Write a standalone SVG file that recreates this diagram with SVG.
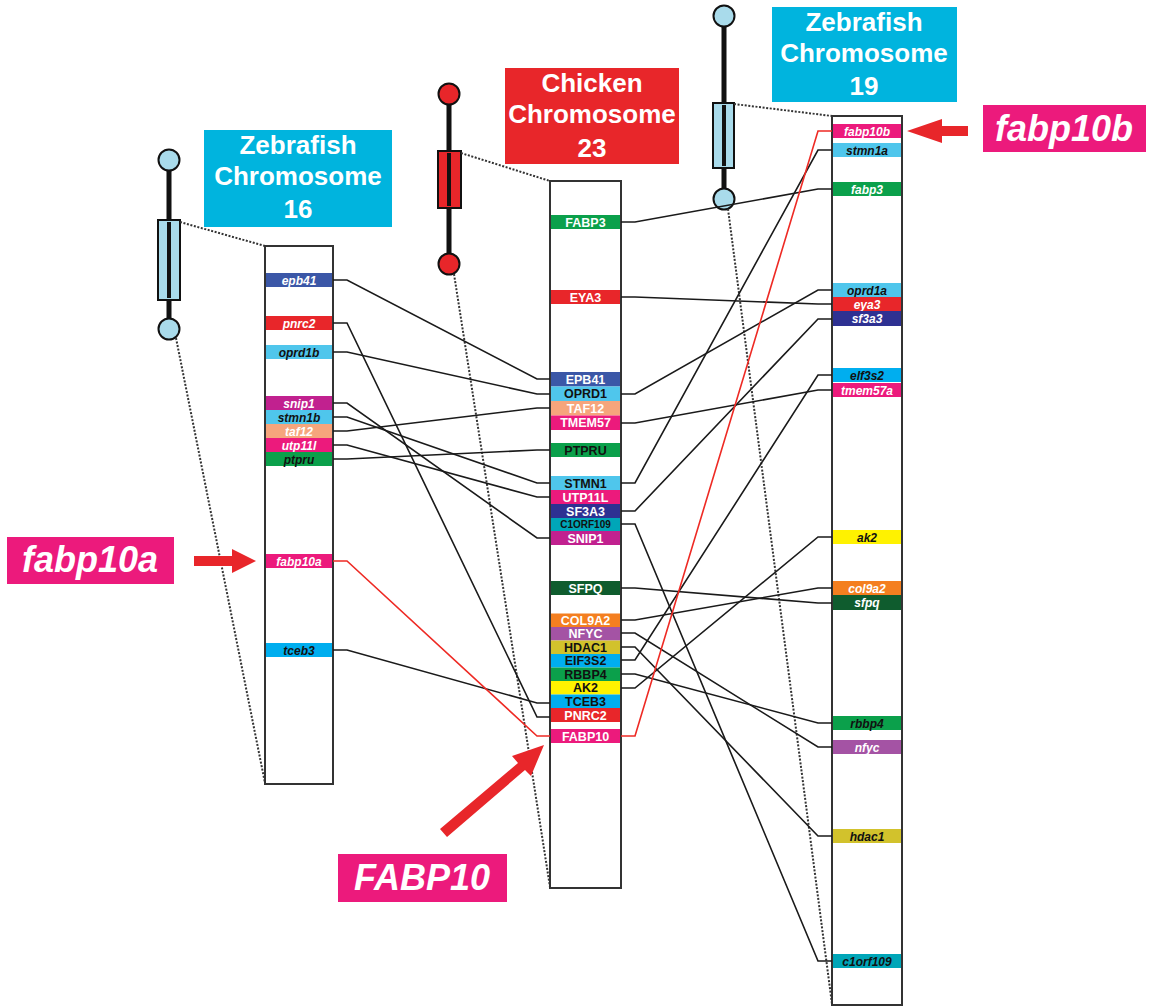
<svg xmlns="http://www.w3.org/2000/svg" width="1153" height="1006" viewBox="0 0 1153 1006">
<style>
text{font-family:"Liberation Sans",Arial,sans-serif;font-weight:bold;text-anchor:middle}
.hdr{font-size:26px;fill:#fff}
.big{font-size:36px;fill:#fff;font-style:italic}
.zg{font-size:12px;font-style:italic}
.cg{font-size:12.5px}
.w{fill:#fff}.k{fill:#111}
.box{fill:#fff;stroke:#333;stroke-width:2}
.dot{fill:none;stroke:#333;stroke-width:2;stroke-dasharray:2,1.6}
.con{fill:none;stroke:#1a1a1a;stroke-width:1.6}
.red{fill:none;stroke:#ee2a24;stroke-width:1.6}
.stalk{stroke:#111;stroke-width:5}
.ib{fill:#a9dbeb;stroke:#111;stroke-width:2}
.ir{fill:#e8262a;stroke:#111;stroke-width:2}
</style>

<!-- Ideograms -->
<g id="ideo16">
<line class="stalk" x1="169" y1="160" x2="169" y2="329"/>
<circle class="ib" cx="169" cy="160" r="10.5"/>
<rect class="ib" x="158" y="220" width="22" height="80"/>
<line x1="169" y1="222" x2="169" y2="298" stroke="#111" stroke-width="4"/>
<circle class="ib" cx="169" cy="329" r="10.5"/>
</g>
<g id="ideo23">
<line class="stalk" x1="449" y1="94" x2="449" y2="264"/>
<circle class="ir" cx="449" cy="94" r="10.5"/>
<rect class="ir" x="438" y="151" width="23" height="57"/>
<line x1="449" y1="153" x2="449" y2="206" stroke="#111" stroke-width="4"/>
<circle class="ir" cx="449" cy="264" r="10.5"/>
</g>
<g id="ideo19">
<line class="stalk" x1="724" y1="16" x2="724" y2="199"/>
<circle class="ib" cx="724" cy="16" r="10.5"/>
<rect class="ib" x="713" y="103" width="21" height="65"/>
<line x1="724" y1="105" x2="724" y2="166" stroke="#111" stroke-width="4"/>
<circle class="ib" cx="724" cy="199" r="10.5"/>
</g>

<!-- Dotted zoom lines -->
<g id="zoomlines">
<line class="dot" x1="180" y1="222" x2="265" y2="246"/>
<line class="dot" x1="176" y1="338" x2="265" y2="783"/>
<line class="dot" x1="461" y1="153" x2="550" y2="181"/>
<line class="dot" x1="454" y1="274" x2="550" y2="887"/>
<line class="dot" x1="734" y1="104" x2="832" y2="116"/>
<line class="dot" x1="728" y1="209" x2="832" y2="1004"/>
</g>

<!-- Headers -->
<g id="hdr16">
<rect x="204" y="130" width="188" height="97" fill="#00b4de"/>
<text class="hdr" x="298" y="154">Zebrafish</text>
<text class="hdr" x="298" y="185">Chromosome</text>
<text class="hdr" x="298" y="218">16</text>
</g>
<g id="hdr23">
<rect x="505" y="68" width="174" height="96" fill="#e8262a"/>
<text class="hdr" x="592" y="92">Chicken</text>
<text class="hdr" x="592" y="123">Chromosome</text>
<text class="hdr" x="592" y="157">23</text>
</g>
<g id="hdr19">
<rect x="772" y="7" width="185" height="95" fill="#00b4de"/>
<text class="hdr" x="864" y="31">Zebrafish</text>
<text class="hdr" x="864" y="62">Chromosome</text>
<text class="hdr" x="864" y="95">19</text>
</g>

<!-- Chromosome boxes -->
<rect id="box16" class="box" x="265" y="246" width="68" height="538"/>
<rect id="box23" class="box" x="550" y="181" width="71" height="707"/>
<rect id="box19" class="box" x="832" y="116" width="70" height="889"/>

<!-- Connectors -->
<g id="connectors">
<polyline class="con" points="333,280 347,280 537,379 550,379"/>
<polyline class="con" points="333,323 347,323 537,717 550,717"/>
<polyline class="con" points="333,352 347,352 537,394 550,394"/>
<polyline class="con" points="333,403 347,403 537,538 550,538"/>
<polyline class="con" points="333,417 347,417 537,483 550,483"/>
<polyline class="con" points="333,431 347,431 537,408 550,408"/>
<polyline class="con" points="333,445 347,445 537,497 550,497"/>
<polyline class="con" points="333,459 347,459 537,450 550,450"/>
<polyline class="con" points="333,650 347,650 537,703 550,703"/>
<polyline class="red" points="333,561 347,561 537,736 550,736"/>

<polyline class="con" points="621,222 635,222 818,189 832,189"/>
<polyline class="con" points="621,297 635,297 818,304 832,304"/>
<polyline class="con" points="621,394 635,394 818,290 832,290"/>
<polyline class="con" points="621,423 635,423 818,390 832,390"/>
<polyline class="con" points="621,483 635,483 818,150 832,150"/>
<polyline class="con" points="621,511 635,511 818,319 832,319"/>
<polyline class="con" points="621,524 635,524 818,961 832,961"/>
<polyline class="con" points="621,588 635,588 818,603 832,603"/>
<polyline class="con" points="621,620 635,620 818,588 832,588"/>
<polyline class="con" points="621,633 635,633 818,747 832,747"/>
<polyline class="con" points="621,647 635,647 818,836 832,836"/>
<polyline class="con" points="621,660 635,660 818,375 832,375"/>
<polyline class="con" points="621,674 635,674 818,723 832,723"/>
<polyline class="con" points="621,688 635,688 818,537 832,537"/>
<polyline class="red" points="621,736 635,736 818,131 832,131"/>
</g>

<!-- Zebrafish 16 genes -->
<g id="g16-epb41"><rect x="266" y="273" width="66" height="14" fill="#3b57a7"/><text class="zg w" x="299" y="284.5">epb41</text></g>
<g id="g16-pnrc2"><rect x="266" y="316" width="66" height="14" fill="#e8262a"/><text class="zg w" x="299" y="327.5">pnrc2</text></g>
<g id="g16-oprd1b"><rect x="266" y="345" width="66" height="14" fill="#4fc6ec"/><text class="zg k" x="299" y="356.5">oprd1b</text></g>
<g id="g16-snip1"><rect x="266" y="396" width="66" height="14" fill="#c1218f"/><text class="zg w" x="299" y="407.5">snip1</text></g>
<g id="g16-stmn1b"><rect x="266" y="410" width="66" height="14" fill="#4fc6ec"/><text class="zg k" x="299" y="421.5">stmn1b</text></g>
<g id="g16-taf12"><rect x="266" y="424" width="66" height="14" fill="#f6a57c"/><text class="zg w" x="299" y="435.5">taf12</text></g>
<g id="g16-utp11l"><rect x="266" y="438" width="66" height="14" fill="#ec1a7c"/><text class="zg w" x="299" y="449.5">utp11l</text></g>
<g id="g16-ptpru"><rect x="266" y="452" width="66" height="14" fill="#0ba04b"/><text class="zg k" x="299" y="463.5">ptpru</text></g>
<g id="g16-fabp10a"><rect x="266" y="554" width="66" height="14" fill="#ec1a7c"/><text class="zg w" x="299" y="565.5">fabp10a</text></g>
<g id="g16-tceb3"><rect x="266" y="643" width="66" height="14" fill="#00aeef"/><text class="zg k" x="299" y="654.5">tceb3</text></g>

<!-- Chicken 23 genes -->
<g id="c-FABP3"><rect x="551" y="215" width="69" height="14" fill="#0ba04b"/><text class="cg w" x="585.5" y="226.5">FABP3</text></g>
<g id="c-EYA3"><rect x="551" y="290" width="69" height="14" fill="#e8262a"/><text class="cg w" x="585.5" y="301.5">EYA3</text></g>
<g id="c-EPB41"><rect x="551" y="372" width="69" height="14.5" fill="#3b57a7"/><text class="cg w" x="585.5" y="383.8">EPB41</text></g>
<g id="c-OPRD1"><rect x="551" y="386.5" width="69" height="14.5" fill="#4fc6ec"/><text class="cg k" x="585.5" y="398.3">OPRD1</text></g>
<g id="c-TAF12"><rect x="551" y="401" width="69" height="14.5" fill="#f6a57c"/><text class="cg w" x="585.5" y="412.8">TAF12</text></g>
<g id="c-TMEM57"><rect x="551" y="415.5" width="69" height="14.5" fill="#ec1a7c"/><text class="cg w" x="585.5" y="427.3">TMEM57</text></g>
<g id="c-PTPRU"><rect x="551" y="443" width="69" height="14" fill="#0ba04b"/><text class="cg k" x="585.5" y="454.5">PTPRU</text></g>
<g id="c-STMN1"><rect x="551" y="476" width="69" height="14" fill="#4fc6ec"/><text class="cg k" x="585.5" y="487.5">STMN1</text></g>
<g id="c-UTP11L"><rect x="551" y="490" width="69" height="14" fill="#ec1a7c"/><text class="cg w" x="585.5" y="501.5">UTP11L</text></g>
<g id="c-SF3A3"><rect x="551" y="504" width="69" height="14" fill="#2e3192"/><text class="cg w" x="585.5" y="515.5">SF3A3</text></g>
<g id="c-C1ORF109"><rect x="551" y="518" width="69" height="13" fill="#00a6b8"/><text class="k" x="585.5" y="528.3" style="font-size:10px">C1ORF109</text></g>
<g id="c-SNIP1"><rect x="551" y="531" width="69" height="14" fill="#c1218f"/><text class="cg w" x="585.5" y="542.5">SNIP1</text></g>
<g id="c-SFPQ"><rect x="551" y="581" width="69" height="14" fill="#0f5c2e"/><text class="cg w" x="585.5" y="592.5">SFPQ</text></g>
<g id="c-COL9A2"><rect x="551" y="613.5" width="69" height="13.5" fill="#f47f20"/><text class="cg w" x="585.5" y="624.7">COL9A2</text></g>
<g id="c-NFYC"><rect x="551" y="627" width="69" height="13.5" fill="#a453a4"/><text class="cg w" x="585.5" y="638.2">NFYC</text></g>
<g id="c-HDAC1"><rect x="551" y="640.5" width="69" height="13.5" fill="#d2c22c"/><text class="cg k" x="585.5" y="651.7">HDAC1</text></g>
<g id="c-EIF3S2"><rect x="551" y="654" width="69" height="13.5" fill="#00aeef"/><text class="cg k" x="585.5" y="665.2">EIF3S2</text></g>
<g id="c-RBBP4"><rect x="551" y="667.5" width="69" height="13.5" fill="#0ba04b"/><text class="cg k" x="585.5" y="678.7">RBBP4</text></g>
<g id="c-AK2"><rect x="551" y="681" width="69" height="13.5" fill="#fff200"/><text class="cg k" x="585.5" y="692.2">AK2</text></g>
<g id="c-TCEB3"><rect x="551" y="694.5" width="69" height="13.5" fill="#00aeef"/><text class="cg k" x="585.5" y="705.7">TCEB3</text></g>
<g id="c-PNRC2"><rect x="551" y="708" width="69" height="14" fill="#e8262a"/><text class="cg w" x="585.5" y="719.5">PNRC2</text></g>
<g id="c-FABP10"><rect x="551" y="729" width="69" height="14" fill="#ec1a7c"/><text class="cg w" x="585.5" y="740.5">FABP10</text></g>

<!-- Zebrafish 19 genes -->
<g id="g19-fabp10b"><rect x="833" y="124" width="68" height="14" fill="#ec1a7c"/><text class="zg w" x="867" y="135.5">fabp10b</text></g>
<g id="g19-stmn1a"><rect x="833" y="143" width="68" height="14" fill="#4fc6ec"/><text class="zg k" x="867" y="154.5">stmn1a</text></g>
<g id="g19-fabp3"><rect x="833" y="182" width="68" height="14" fill="#0ba04b"/><text class="zg w" x="867" y="193.5">fabp3</text></g>
<g id="g19-oprd1a"><rect x="833" y="283" width="68" height="14" fill="#4fc6ec"/><text class="zg k" x="867" y="294.5">oprd1a</text></g>
<g id="g19-eya3"><rect x="833" y="297" width="68" height="14" fill="#e8262a"/><text class="zg w" x="867" y="308.5">eya3</text></g>
<g id="g19-sf3a3"><rect x="833" y="311" width="68" height="15" fill="#2e3192"/><text class="zg w" x="867" y="322.5">sf3a3</text></g>
<g id="g19-elf3s2"><rect x="833" y="368" width="68" height="14" fill="#00aeef"/><text class="zg k" x="867" y="379.5">elf3s2</text></g>
<g id="g19-tmem57a"><rect x="833" y="383" width="68" height="14" fill="#ec1a7c"/><text class="zg w" x="867" y="394.5">tmem57a</text></g>
<g id="g19-ak2"><rect x="833" y="530" width="68" height="14" fill="#fff200"/><text class="zg k" x="867" y="541.5">ak2</text></g>
<g id="g19-col9a2"><rect x="833" y="581" width="68" height="14" fill="#f47f20"/><text class="zg w" x="867" y="592.5">col9a2</text></g>
<g id="g19-sfpq"><rect x="833" y="595" width="68" height="15" fill="#0f5c2e"/><text class="zg w" x="867" y="606.5">sfpq</text></g>
<g id="g19-rbbp4"><rect x="833" y="716" width="68" height="14" fill="#0ba04b"/><text class="zg k" x="867" y="727.5">rbbp4</text></g>
<g id="g19-nfyc"><rect x="833" y="740" width="68" height="14" fill="#a453a4"/><text class="zg w" x="867" y="751.5">nfyc</text></g>
<g id="g19-hdac1"><rect x="833" y="829" width="68" height="14" fill="#d2c22c"/><text class="zg k" x="867" y="840.5">hdac1</text></g>
<g id="g19-c1orf109"><rect x="833" y="954" width="68" height="14" fill="#00a6b8"/><text class="zg k" x="867" y="965.5">c1orf109</text></g>

<!-- Callout labels and arrows -->
<g id="lbl-fabp10a">
<rect x="7" y="537" width="167" height="47" fill="#ec1a7c"/>
<text class="big" x="90" y="572">fabp10a</text>
<polygon points="194,556 232,556 232,549 256,561 232,573 232,566 194,566" fill="#e8262a"/>
</g>
<g id="lbl-fabp10b">
<rect x="983" y="105" width="163" height="47" fill="#ec1a7c"/>
<text class="big" x="1064" y="141">fabp10b</text>
<polygon points="968,126 942,126 942,119 907,131 942,143 942,136 968,136" fill="#e8262a"/>
</g>
<g id="lbl-FABP10">
<rect x="338" y="854" width="169" height="48" fill="#ec1a7c"/>
<text class="big" x="422" y="890">FABP10</text>
<polygon points="440,829 518,763 512,756 544,745 531,776 525,770 447,837" fill="#e8262a"/>
</g>
</svg>
